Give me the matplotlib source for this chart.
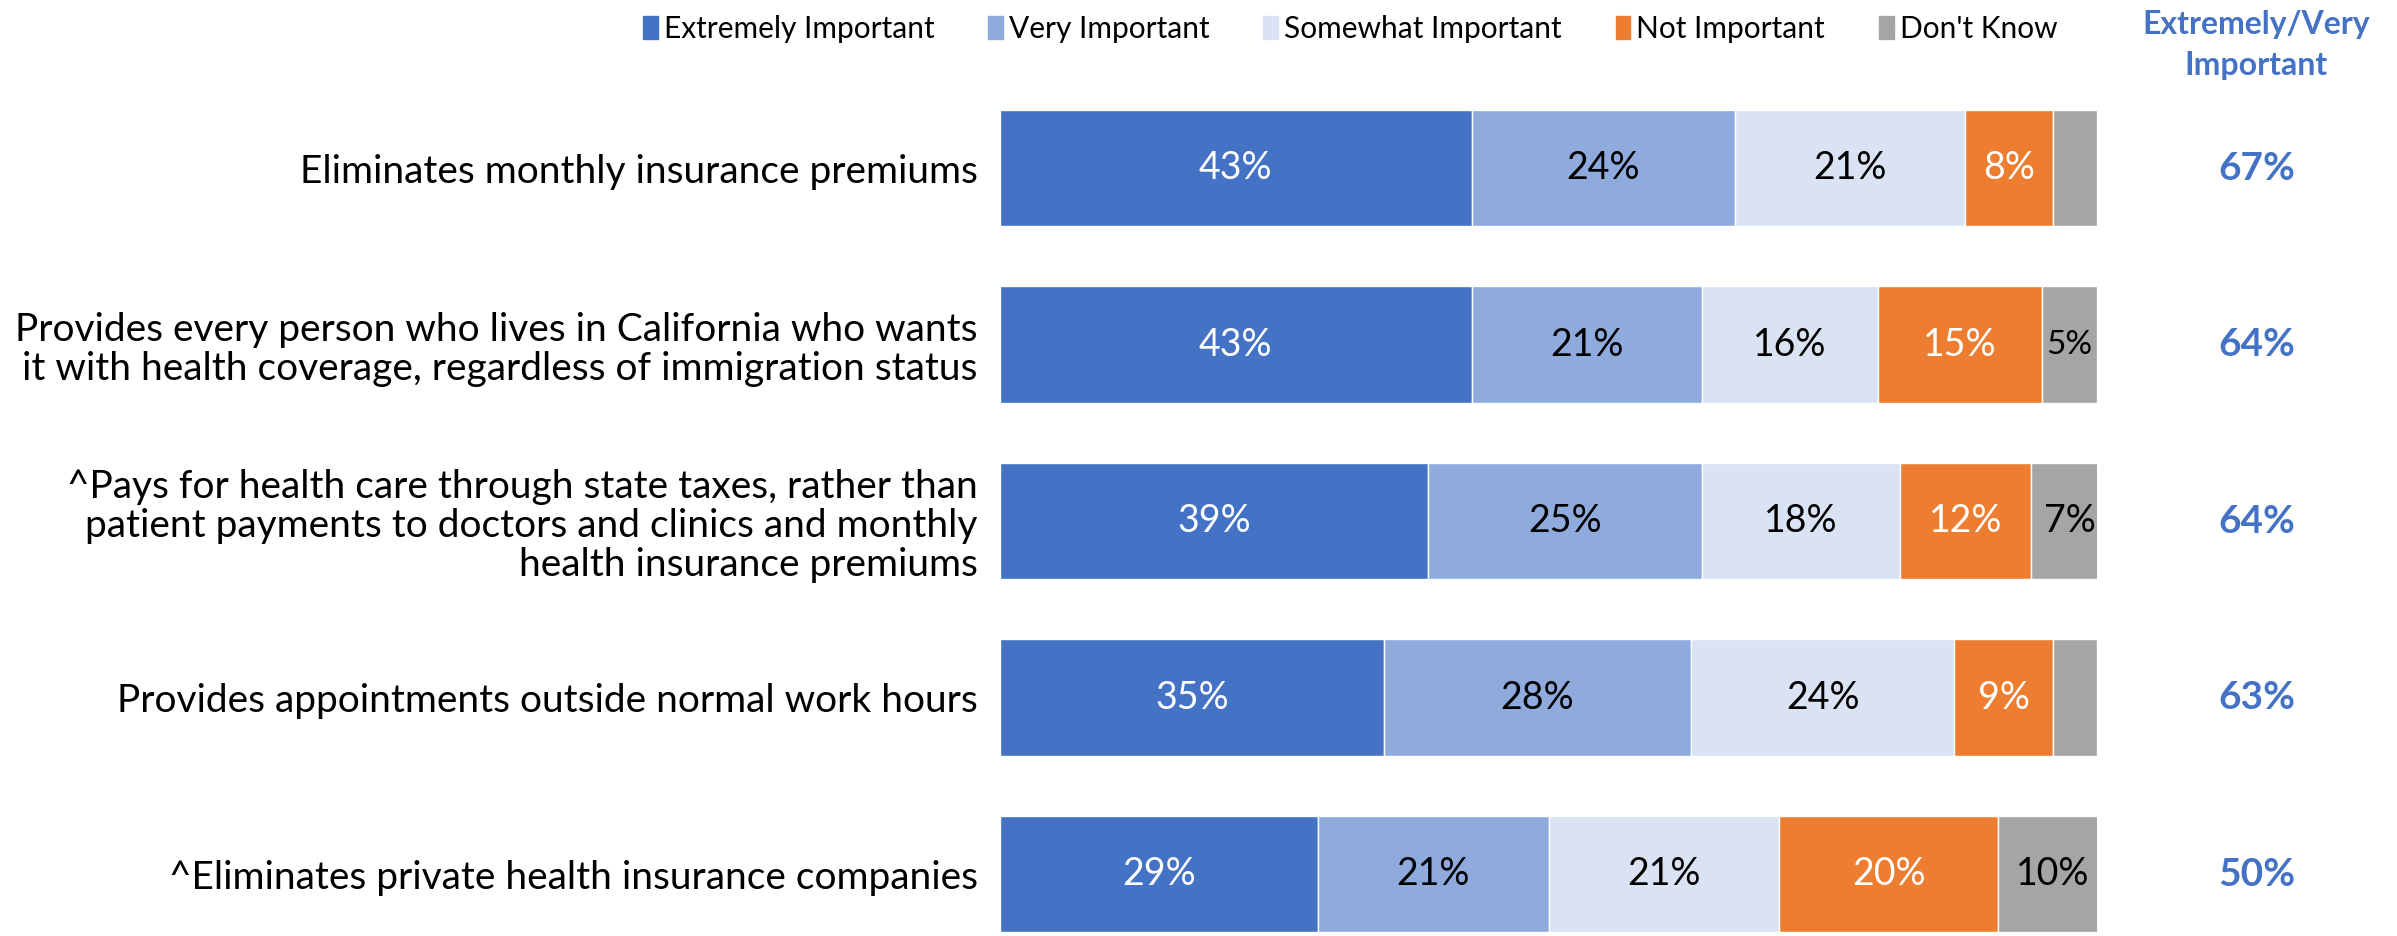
import matplotlib.pyplot as plt
from matplotlib.patches import Patch

plt.rcParams['font.family'] = ['Lato', 'DejaVu Sans']

items = ['Eliminates monthly insurance premiums',
         'Provides every person who lives in California who wants\nit with health coverage, regardless of immigration status',
         '^Pays for health care through state taxes, rather than\npatient payments to doctors and clinics and monthly\nhealth insurance premiums',
         'Provides appointments outside normal work hours',
         '^Eliminates private health insurance companies']
series = ['Extremely Important', 'Very Important', 'Somewhat Important', 'Not Important', "Don't Know"]
extremely = [43, 43, 39, 35, 29]
very = [24, 21, 25, 28, 21]
somewhat = [21, 16, 18, 24, 21]
not_imp = [8, 15, 12, 9, 20]
dont_know = [4, 5, 7, 4, 10]
top2 = [67, 64, 64, 63, 50]

colors = ['#4472C4', '#8FAADC', '#DAE3F3', '#ED7D31', '#A5A5A5']
txtcol = ['white', 'black', 'black', 'white', 'black']
blue = '#4472C4'

fig = plt.figure(figsize=(23.97, 9.36), dpi=100)
ax = fig.add_axes([1000/2397, 0, 1097/2397, (936-80)/936])

data = [extremely, very, somewhat, not_imp, dont_know]
y = list(range(len(items)))
left = [0]*len(items)
for k, vals in enumerate(data):
    ax.barh(y, vals, left=left, height=0.66, color=colors[k],
            edgecolor='white', linewidth=1, label=series[k])
    for i, v in enumerate(vals):
        if v >= 5:
            ax.text(left[i] + v/2, i, f'{v}%', ha='center', va='center',
                    color=txtcol[k], fontsize=27 if v > 5 else 24)
    left = [a + b for a, b in zip(left, vals)]

ax.set_xlim(0, 100)
ax.set_ylim(4.351, -0.5)
ax.set_yticks(y)
ax.set_yticklabels(items, fontsize=28, linespacing=1.1)
ax.tick_params(axis='y', length=0, pad=16)
ax.set_xticks([])
for s in ax.spines.values():
    s.set_visible(False)

# top-2 column
for i, v in enumerate(top2):
    ax.text(114.6, i, f'{v}%', ha='center', va='center', color=blue,
            fontsize=28, fontweight='bold')
fig.text(2256/2397, 1 - 45/936, 'Extremely/Very\nImportant', ha='center', va='center',
         color=blue, fontsize=23, fontweight='bold', linespacing=1.5)

handles = [Patch(color=c) for c in colors]
fig.legend(handles, series, loc='center', bbox_to_anchor=(1350/2397, 1 - 29/936),
           ncol=5, frameon=False, fontsize=21.5, handlelength=0.5, handleheight=0.8,
           handletextpad=0.2, columnspacing=1.8)

fig.savefig('out.png', dpi=100)
